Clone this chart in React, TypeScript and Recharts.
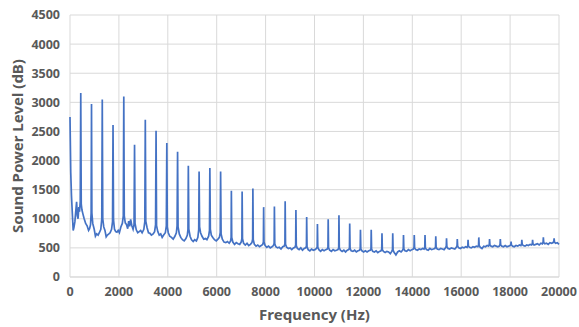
import { CartesianGrid, Line, LineChart, XAxis, YAxis } from 'recharts';

// harmonic spectrum, split into bands: [Hz, level]
const lowBand: [number, number][] = [
  [0, 2750], [30, 1800], [60, 1400], [100, 1050], [130, 800], [160, 850], [200, 950], [240, 1150],
  [270, 1290], [300, 1050], [330, 1000], [360, 1200], [390, 1120], [420, 1300], [440, 3160], [460, 1250],
  [490, 1150], [530, 1080], [580, 1000], [640, 920], [700, 880], [760, 800], [800, 830], [840, 900],
  [865, 1100], [880, 2970], [895, 1100], [930, 920], [990, 820], [1040, 700], [1090, 740], [1150, 720],
  [1200, 760], [1260, 820], [1300, 1000], [1320, 3050], [1340, 1000], [1380, 860], [1430, 800], [1480, 690],
  [1530, 720], [1590, 740], [1640, 760], [1700, 820], [1740, 950], [1760, 2610], [1780, 980], [1820, 820],
  [1870, 780], [1920, 770], [1970, 800], [2020, 760], [2080, 860], [2140, 920], [2180, 1050], [2200, 3100],
  [2220, 1050], [2260, 930], [2310, 900], [2360, 830], [2400, 960], [2440, 870], [2480, 990], [2530, 880],
  [2580, 820], [2620, 900], [2640, 2270], [2660, 920], [2710, 810], [2770, 760], [2830, 780], [2890, 800],
  [2950, 760], [3020, 820], [3060, 950], [3080, 2700], [3100, 960], [3150, 850], [3210, 760], [3270, 750],
  [3330, 720], [3400, 740], [3460, 780], [3500, 900], [3520, 2510], [3540, 880], [3590, 780], [3650, 720],
  [3710, 740], [3770, 680], [3830, 720], [3900, 760], [3940, 880], [3960, 2300], [3980, 860],
];

const midBand: [number, number][] = [
  [4020, 760], [4080, 700], [4150, 680], [4220, 650], [4290, 700], [4350, 760], [4380, 880], [4400, 2150],
  [4420, 860], [4470, 740], [4530, 680], [4600, 640], [4670, 620], [4740, 660], [4800, 720], [4825, 820],
  [4840, 1910], [4860, 820], [4910, 700], [4970, 640], [5040, 610], [5100, 640], [5170, 620], [5230, 680],
  [5265, 820], [5280, 1810], [5300, 860], [5340, 760], [5400, 700], [5470, 650], [5540, 660], [5600, 640],
  [5670, 700], [5705, 800], [5720, 1870], [5740, 820], [5780, 720], [5840, 680], [5910, 640], [5980, 620],
  [6050, 650], [6110, 680], [6145, 760], [6160, 1810], [6180, 740], [6230, 650], [6300, 600], [6370, 590],
  [6440, 610], [6510, 580], [6570, 620], [6590, 680], [6600, 1480], [6615, 680], [6660, 600], [6730, 560],
  [6800, 590], [6870, 570], [6940, 560], [7000, 600], [7030, 660], [7040, 1470], [7055, 660], [7100, 580],
  [7170, 550], [7240, 580], [7310, 540], [7380, 560], [7440, 590], [7470, 650], [7480, 1520], [7495, 640],
  [7540, 560], [7610, 530], [7680, 550], [7750, 520], [7820, 540], [7880, 560], [7910, 600], [7920, 1200],
  [7935, 600], [7980, 540], [8050, 510], [8120, 530], [8190, 500], [8260, 520], [8320, 540], [8350, 580],
  [8360, 1210], [8375, 570], [8420, 520], [8490, 500], [8560, 510], [8630, 480], [8700, 520], [8760, 530],
  [8790, 570], [8800, 1300], [8815, 560], [8860, 510], [8930, 490], [9000, 500], [9070, 470], [9140, 500],
  [9200, 510], [9230, 550], [9240, 1150], [9255, 540], [9300, 490], [9370, 470], [9440, 500], [9510, 460],
  [9580, 490], [9640, 500], [9670, 530], [9680, 1030], [9695, 520], [9740, 470], [9810, 450], [9880, 480],
  [9950, 460],
];

const highBand: [number, number][] = [
  [10020, 470], [10080, 490], [10110, 520], [10120, 910], [10135, 510], [10180, 470], [10250, 440], [10320, 470],
  [10390, 450], [10460, 470], [10520, 480], [10550, 510], [10560, 990], [10575, 500], [10620, 460], [10690, 440],
  [10760, 470], [10830, 450], [10900, 460], [10960, 470], [10990, 500], [11000, 1060], [11015, 500], [11060, 460],
  [11130, 440], [11200, 460], [11270, 430], [11340, 460], [11400, 470], [11430, 500], [11440, 920], [11455, 490],
  [11500, 450], [11570, 440], [11640, 460], [11710, 430], [11780, 450], [11840, 460], [11870, 490], [11880, 810],
  [11895, 480], [11940, 450], [12010, 430], [12080, 450], [12150, 430], [12220, 450], [12280, 460], [12310, 490],
  [12320, 810], [12335, 480], [12380, 440], [12450, 430], [12520, 450], [12590, 420], [12660, 440], [12720, 450],
  [12750, 480], [12760, 750], [12775, 470], [12820, 440], [12890, 420], [12960, 440], [13030, 430], [13100, 400],
  [13160, 440], [13190, 470], [13200, 750], [13215, 460], [13260, 420], [13330, 380], [13400, 430], [13470, 450],
  [13540, 430], [13600, 460], [13630, 490], [13640, 720], [13655, 480], [13700, 450], [13770, 440], [13840, 470],
  [13910, 450], [13980, 470], [14040, 480], [14070, 510], [14080, 720], [14095, 500], [14140, 470], [14210, 460],
  [14280, 480], [14350, 470], [14420, 490], [14480, 480], [14510, 510], [14520, 720], [14535, 500], [14580, 470],
  [14650, 460], [14720, 490], [14790, 470], [14860, 480], [14920, 490], [14950, 520], [14960, 700], [14975, 510],
  [15020, 480], [15090, 470], [15160, 490], [15230, 480], [15300, 470], [15360, 500], [15390, 530], [15400, 665],
  [15415, 520], [15460, 490], [15530, 480], [15600, 500], [15670, 490], [15740, 480], [15800, 510], [15830, 540],
  [15840, 650], [15855, 530], [15900, 500], [15970, 490], [16040, 510], [16110, 500], [16180, 520], [16240, 510],
  [16270, 540], [16280, 640], [16295, 530], [16340, 510], [16410, 500], [16480, 520], [16550, 510], [16620, 530],
  [16680, 520], [16710, 550], [16720, 680], [16735, 540], [16780, 510], [16850, 490], [16920, 530], [16990, 520],
  [17060, 540], [17120, 530], [17150, 560], [17160, 650], [17175, 550], [17220, 530], [17290, 520], [17360, 540],
  [17430, 530], [17500, 520], [17560, 530], [17590, 560], [17600, 650], [17615, 550], [17660, 530], [17730, 520],
  [17800, 540], [17870, 520], [17940, 530], [18000, 540], [18030, 560], [18040, 610], [18055, 550], [18100, 530],
  [18170, 520], [18240, 540], [18310, 530], [18380, 550], [18440, 540], [18470, 570], [18480, 640], [18495, 560],
  [18540, 540], [18610, 530], [18680, 550], [18750, 540], [18820, 560], [18880, 550], [18910, 580], [18920, 640],
  [18935, 570], [18980, 550], [19050, 560], [19120, 570], [19190, 550], [19260, 580], [19320, 570], [19350, 600],
  [19360, 680], [19375, 590], [19420, 570], [19490, 580], [19560, 560], [19630, 590], [19700, 580], [19760, 590],
  [19790, 620], [19800, 665], [19815, 600], [19860, 580], [19930, 590], [20000, 560],
];

const xTicks = [0, 2000, 4000, 6000, 8000, 10000, 12000, 14000, 16000, 18000, 20000];
const yTicks = [0, 500, 1000, 1500, 2000, 2500, 3000, 3500, 4000, 4500];

const data = [...lowBand, ...midBand, ...highBand].map(([f, db]) => ({ f, db }));

const FONT = '"Noto Sans", sans-serif';
const tickStyle = { fontSize: 12.5, fill: '#595959', fontWeight: 700, fontFamily: FONT };

export default function App() {
  return (
    <div style={{ position: 'absolute', left: 0, top: 0, width: 579, height: 327, background: '#fff' }}>
      <LineChart width={579} height={327} data={data} margin={{ top: 15, right: 20, left: 0, bottom: 20 }}>
        <CartesianGrid stroke="#d9d9d9" strokeWidth={1} />
        <XAxis
          dataKey="f"
          type="number"
          domain={[0, 20000]}
          ticks={xTicks}
          interval={0}
          tickLine={false}
          axisLine={{ stroke: '#d9d9d9' }}
          tickMargin={4}
          height={30}
          tick={tickStyle}
          label={{
            content: ({ viewBox }: any) => (
              <text
                x={viewBox.x + viewBox.width / 2}
                y={viewBox.y + 43}
                textAnchor="middle"
                fill="#595959"
                fontSize={15}
                fontWeight={700}
                fontFamily={FONT}
              >
                Frequency (Hz)
              </text>
            ),
          }}
        />
        <YAxis
          type="number"
          domain={[0, 4500]}
          ticks={yTicks}
          interval={0}
          width={70}
          tickLine={false}
          axisLine={false}
          tickMargin={4}
          tick={tickStyle}
          label={{
            content: ({ viewBox }: any) => (
              <text
                transform={`translate(${viewBox.x + 23},${viewBox.y + viewBox.height / 2}) rotate(-90)`}
                textAnchor="middle"
                fill="#595959"
                fontSize={15}
                fontWeight={700}
                fontFamily={FONT}
              >
                Sound Power Level (dB)
              </text>
            ),
          }}
        />
        <Line
          type="linear"
          dataKey="db"
          stroke="#4472C4"
          strokeWidth={1.7}
          dot={false}
          isAnimationActive={false}
        />
      </LineChart>
    </div>
  );
}
